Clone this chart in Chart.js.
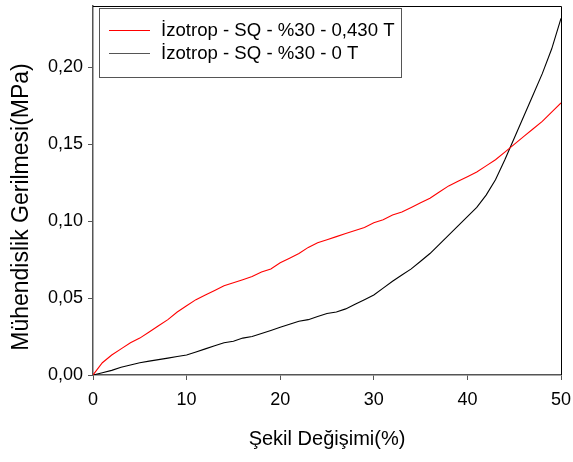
<!DOCTYPE html>
<html lang="tr">
<head>
<meta charset="UTF-8">
<title>Gerilme - Şekil Değişimi</title>
<script src="https://cdn.jsdelivr.net/npm/chart.js"></script>
<style>
  html, body { margin: 0; padding: 0; background: #fff; }
  #wrap { width: 573px; height: 462px; }
</style>
</head>
<body>
<div id="wrap"><canvas id="chart" width="573" height="462"></canvas></div>
<script>
// strain (%) read every 1 unit off the picture
const strain = [0,1,2,3,4,5,6,7,8,9,10,11,12,13,14,15,16,17,18,19,20,21,22,23,24,25,
  26,27,28,29,30,31,32,33,34,35,36,37,38,39,40,41,42,43,44,45,46,47,48,49,50];

// İzotrop - SQ - %30 - 0,430 T (red)
const stress430 = [0,0.008,0.013,0.017,0.021,0.024,0.028,0.032,0.036,0.041,0.045,0.049,0.052,
  0.055,0.058,0.060,0.062,0.064,0.067,0.069,0.073,0.076,0.079,0.083,0.086,0.088,0.090,0.092,
  0.094,0.096,0.099,0.101,0.104,0.106,0.109,0.112,0.115,0.119,0.123,0.126,0.129,0.132,0.136,
  0.140,0.145,0.150,0.155,0.160,0.165,0.171,0.177];

// İzotrop - SQ - %30 - 0 T (black)
const stress0 = [0,0.0015,0.003,0.005,0.0065,0.008,0.009,0.010,0.011,0.012,0.013,0.015,0.017,
  0.019,0.021,0.022,0.024,0.025,0.027,0.029,0.031,0.033,0.035,0.036,0.038,0.040,0.041,0.043,
  0.046,0.049,0.052,0.0565,0.061,0.065,0.069,0.074,0.079,0.085,0.091,0.097,0.103,0.109,0.117,
  0.127,0.140,0.154,0.168,0.182,0.196,0.212,0.232];

const seriesLabels = ['İzotrop - SQ - %30 - 0,430 T', 'İzotrop - SQ - %30 - 0 T'];
const legendLineColors = ['#ff0000', '#555555'];
const yTitle = 'Mühendislik Gerilmesi(MPa)';

const FONT = 'Liberation Sans, Arial, sans-serif';

function pts(ys) {
  return strain.map((x, i) => ({ x: x, y: ys[i] }));
}

// frame on top/right, y title, boxed legend
const extras = {
  id: 'extras',
  afterDraw(chart) {
    const ctx = chart.ctx;
    const a = chart.chartArea;
    ctx.save();
    ctx.strokeStyle = '#000';
    ctx.lineWidth = 1;
    ctx.beginPath();
    ctx.moveTo(a.left, a.top + 0.5);
    ctx.lineTo(a.right + 0.5, a.top + 0.5);
    ctx.lineTo(a.right + 0.5, a.bottom);
    ctx.stroke();

    // y axis title
    ctx.save();
    ctx.translate(22, 207);
    ctx.rotate(-Math.PI / 2);
    ctx.font = '23px ' + FONT;
    ctx.fillStyle = '#000';
    ctx.textAlign = 'center';
    ctx.textBaseline = 'middle';
    ctx.fillText(yTitle, 0, 0);
    ctx.restore();

    // legend
    const bx = 99, by = 8, bw = 302, bh = 69;
    ctx.fillStyle = '#fff';
    ctx.fillRect(bx, by, bw, bh);
    ctx.strokeStyle = '#555';
    ctx.strokeRect(bx + 0.5, by + 0.5, bw, bh);
    ctx.font = '18.6px ' + FONT;
    ctx.textBaseline = 'middle';
    chart.data.datasets.forEach((ds, i) => {
      const y = 30 + i * 23;
      ctx.strokeStyle = legendLineColors[i];
      ctx.beginPath();
      ctx.moveTo(109, y + 0.5);
      ctx.lineTo(150, y + 0.5);
      ctx.stroke();
      ctx.fillStyle = '#000';
      ctx.fillText(ds.label, 161, y + 1);
    });
    ctx.restore();
  }
};

new Chart(document.getElementById('chart'), {
  type: 'line',
  data: {
    datasets: [
      { label: seriesLabels[0], data: pts(stress430), borderColor: '#ff0000', borderWidth: 1.1 },
      { label: seriesLabels[1], data: pts(stress0), borderColor: '#000000', borderWidth: 1.1 }
    ]
  },
  options: {
    responsive: false,
    animation: false,
    layout: { padding: { top: 6, right: 12, left: 0, bottom: 0 } },
    elements: { point: { radius: 0 }, line: { tension: 0 } },
    plugins: { legend: { display: false }, tooltip: { enabled: false } },
    scales: {
      x: {
        type: 'linear',
        min: 0, max: 50,
        ticks: { stepSize: 10, color: '#000', padding: 9, maxRotation: 0,
                 font: { family: FONT, size: 18 } },
        grid: { drawOnChartArea: false, tickLength: 5, tickColor: '#555' },
        border: { color: '#555', width: 1.5 },
        title: { display: true, text: 'Şekil Değişimi(%)', color: '#000',
                 font: { family: FONT, size: 20 }, padding: { top: 0, bottom: 11 } },
        afterFit(scale) {
          scale.height = 87;
          scale.paddingLeft = 0;
          scale.paddingRight = 0;
        }
      },
      y: {
        min: 0, max: 0.24,
        ticks: { stepSize: 0.05, color: '#000', padding: 5,
                 font: { family: FONT, size: 18 },
                 callback: v => v.toFixed(2).replace('.', ',') },
        afterBuildTicks(scale) {
          scale.ticks = scale.ticks.filter(t => Math.abs(t.value * 20 - Math.round(t.value * 20)) < 1e-6);
        },
        grid: { drawOnChartArea: false, tickLength: 5, tickColor: '#555' },
        border: { color: '#555', width: 1.5 },
        afterFit(scale) {
          scale.width = 93;
          scale.paddingTop = 0;
          scale.paddingBottom = 0;
        }
      }
    }
  },
  plugins: [extras]
});
</script>
</body>
</html>
